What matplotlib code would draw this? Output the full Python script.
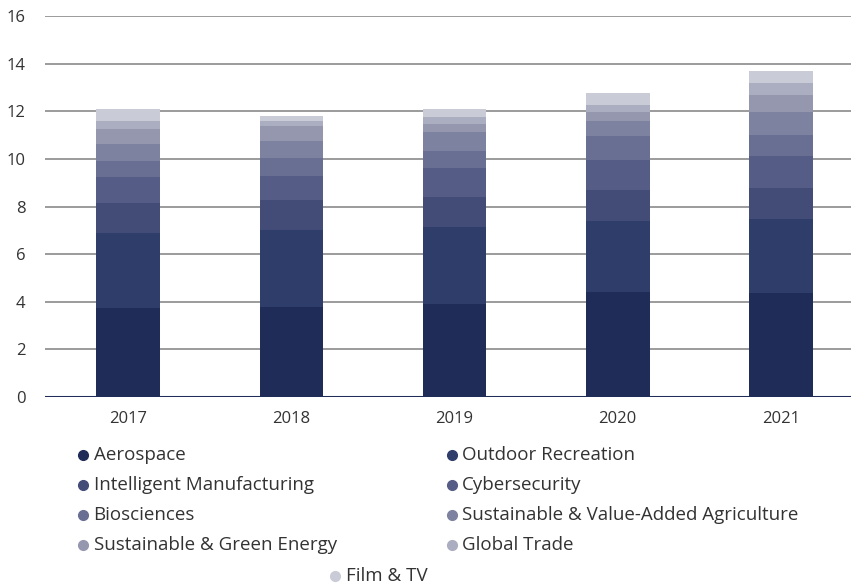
import numpy as np
import matplotlib
matplotlib.use("Agg")
import matplotlib.pyplot as plt
from matplotlib.lines import Line2D

years = ["2017", "2018", "2019", "2020", "2021"]
sectors = [
    "Aerospace", "Outdoor Recreation", "Intelligent Manufacturing",
    "Cybersecurity", "Biosciences", "Sustainable & Value-Added Agriculture",
    "Sustainable & Green Energy", "Global Trade", "Film & TV",
]
aerospace = [3.73, 3.79, 3.91, 4.42, 4.36]
outdoor = [3.17, 3.23, 3.25, 2.99, 3.11]
manufacturing = [1.26, 1.26, 1.26, 1.29, 1.32]
cybersecurity = [1.10, 1.01, 1.19, 1.26, 1.31]
biosciences = [0.67, 0.74, 0.74, 0.98, 0.90]
agriculture = [0.70, 0.74, 0.76, 0.67, 0.95]
green_energy = [0.62, 0.59, 0.34, 0.34, 0.74]
global_trade = [0.32, 0.24, 0.30, 0.32, 0.51]
film_tv = [0.53, 0.18, 0.34, 0.49, 0.51]

series = [aerospace, outdoor, manufacturing, cybersecurity, biosciences,
          agriculture, green_energy, global_trade, film_tv]
colors = ["#1f2c58", "#2f3d6b", "#434b77", "#555d86", "#696f93",
          "#7d82a0", "#9497ae", "#abadc0", "#c9cbd7"]

plt.rcParams["font.family"] = ["Open Sans", "DejaVu Sans"]
fig = plt.figure(figsize=(8.51, 5.86), dpi=100)
ax = fig.add_axes([0.053, 0.3225, 0.947, 0.6502])

x = np.arange(len(years))
bottom = np.zeros(len(years))
for vals, col in zip(series, colors):
    ax.bar(x, vals, width=0.39, bottom=bottom, color=col, zorder=3)
    bottom += np.array(vals)

ax.set_ylim(0, 16)
ax.set_xlim(-0.51, 4.43)
ax.set_yticks(range(0, 17, 2))
ax.set_xticks(x)
ax.set_xticklabels(years)
ax.yaxis.grid(True, color="#8a8a8a", linewidth=1.2, zorder=0)
ax.axhline(0, color="#1f2c58", linewidth=2.2, zorder=4)
for s in ax.spines.values():
    s.set_visible(False)
ax.tick_params(axis="both", length=0, labelsize=12, colors="#333333")
ax.tick_params(axis="x", pad=10)
ax.tick_params(axis="y", pad=14)

# legend: two columns, last entry centred underneath
col_x = [0.098, 0.531]
row_y = [0.224, 0.173, 0.122, 0.070]
for i, (name, col) in enumerate(zip(sectors[:8], colors[:8])):
    cx, cy = col_x[i % 2], row_y[i // 2]
    fig.add_artist(Line2D([cx], [cy], marker="o", markersize=7,
                          color=col, linestyle="none",
                          transform=fig.transFigure))
    fig.text(cx + 0.012, cy, name, fontsize=13.5, color="#333333",
             va="center", ha="left")
fig.add_artist(Line2D([0.394], [0.017], marker="o", markersize=7,
                      color=colors[8], linestyle="none",
                      transform=fig.transFigure))
fig.text(0.406, 0.017, sectors[8], fontsize=13.5, color="#333333",
         va="center", ha="left")

fig.savefig("out.png", dpi=100)
